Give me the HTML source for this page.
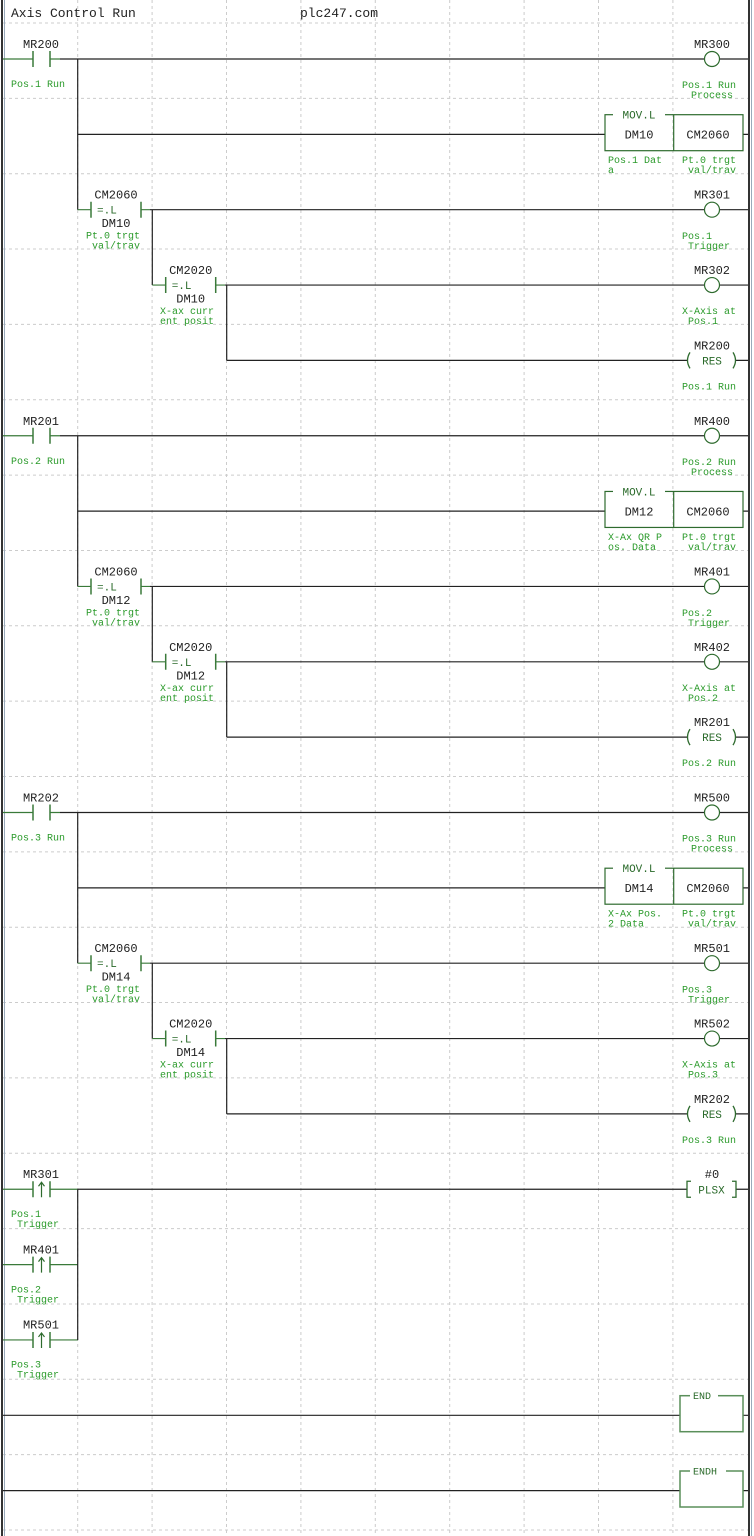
<!DOCTYPE html>
<html><head><meta charset="utf-8"><style>
html,body{margin:0;padding:0;background:#fff;}
svg{display:block;}
.l{font-family:"Liberation Mono",monospace;font-size:12px;fill:#222;}
.c{font-family:"Liberation Mono",monospace;font-size:10px;fill:#2a9a2a;}
.g{font-family:"Liberation Mono",monospace;font-size:11px;fill:#2a6a2a;}
.m{text-anchor:middle;}
</style></head><body>
<svg width="754" height="1536" viewBox="0 0 754 1536" xmlns="http://www.w3.org/2000/svg">
<defs>
<g id="bs" fill="none" stroke-width="1.2">
  <path d="M3 36H33M50 36H60" stroke="#3a7a3a"/>
  <path d="M60 36H704M719.5 36H748" stroke="#222"/>
  <path d="M33 28V44M50 28V44" stroke="#3a7a3a" stroke-width="1.5"/>
  <circle cx="712" cy="36" r="7.5" stroke="#2e6b2e"/>
  <path d="M77.7 36V186.7" stroke="#222"/>
  <path d="M77.7 111.35H605M743 111.35H748" stroke="#222"/>
  <rect x="605" y="91.7" width="138" height="36" stroke="#2e6b2e"/>
  <path d="M673.7 91.7V127.7" stroke="#2e6b2e"/>
  <rect x="613" y="86" width="52" height="10" fill="#fff" stroke="none"/>
  <path d="M77.7 186.7H91M141 186.7H150" stroke="#3a7a3a"/>
  <path d="M91 178.7V194.7M141 178.7V194.7" stroke="#3a7a3a" stroke-width="1.5"/>
  <path d="M150 186.7H704M719.5 186.7H748" stroke="#222"/>
  <circle cx="712" cy="186.7" r="7.5" stroke="#2e6b2e"/>
  <path d="M152.3 186.7V262.05" stroke="#222"/>
  <path d="M152.3 262.05H165.7M215.7 262.05H225" stroke="#3a7a3a"/>
  <path d="M165.7 254V270M215.7 254V270" stroke="#3a7a3a" stroke-width="1.5"/>
  <path d="M225 262.05H704M719.5 262.05H748" stroke="#222"/>
  <circle cx="712" cy="262.05" r="7.5" stroke="#2e6b2e"/>
  <path d="M226.7 262.05V337.4" stroke="#222"/>
  <path d="M226.7 337.4H687M736 337.4H748" stroke="#222"/>
  <path d="M690 329.4Q685 337.4 690 345.4M733 329.4Q738 337.4 733 345.4" stroke="#2e6b2e" stroke-width="1.3"/>
</g>
<g id="bt" fill="none" stroke-width="1.2">
  <path d="M3 0H33M50 0H77.7" stroke="#3a7a3a"/>
  <path d="M33 -8V8M50 -8V8" stroke="#3a7a3a" stroke-width="1.5"/>
  <path d="M41.5 8V-7M38.5 -3L41.5 -7L44.5 -3" stroke="#2e6b2e"/>
</g>
</defs>

<g stroke="#ccc" stroke-dasharray="3,3" stroke-width="1">
  <path d="M77.7 0V1536M152.1 0V1536M226.5 0V1536M300.9 0V1536M375.3 0V1536M449.7 0V1536M524.1 0V1536M598.5 0V1536M672.9 0V1536"/>
  <path d="M3 23H748M3 98.35H748M3 173.7H748M3 249H748M3 324.4H748M3 399.75H748M3 475.1H748M3 550.45H748M3 625.8H748M3 701.15H748M3 776.5H748M3 851.85H748M3 927.2H748M3 1002.55H748M3 1077.9H748M3 1153.25H748M3 1228.6H748M3 1303.95H748M3 1379.3H748M3 1454.65H748M3 1530H748"/>
</g>
<rect x="1" y="0" width="2" height="1536" fill="#333"/>
<rect x="4" y="0" width="1" height="1536" fill="#9ab"/>
<rect x="748" y="0" width="2" height="1536" fill="#333"/>
<rect x="751" y="0" width="1" height="1536" fill="#9ab"/>

<text class="l" x="11" y="17" style="font-size:13px">Axis Control Run</text>
<text class="l" x="300" y="17" style="font-size:13px">plc247.com</text>

<use href="#bs" transform="translate(0,23)"/>
<use href="#bs" transform="translate(0,399.75)"/>
<use href="#bs" transform="translate(0,776.5)"/>

<g transform="translate(0,23)">
<text class="l m" x="41" y="25">MR200</text><text class="c" x="11" y="64">Pos.1 Run</text>
<text class="l m" x="712" y="25">MR300</text><text class="c" x="682" y="65">Pos.1 Run</text><text class="c" x="691" y="75">Process</text>
<text class="g m" x="639" y="95.5">MOV.L</text>
<text class="l m" x="639" y="115.5">DM10</text><text class="l m" x="708" y="115.5">CM2060</text>
<text class="c" x="608" y="140">Pos.1 Dat</text><text class="c" x="608" y="150">a</text>
<text class="c" x="682" y="140">Pt.0 trgt</text><text class="c" x="688" y="150">val/trav</text>
<text class="l m" x="116" y="175.7">CM2060</text><text class="g" x="97" y="190.7">=.L</text><text class="l m" x="116" y="204">DM10</text>
<text class="c" x="86" y="215.5">Pt.0 trgt</text><text class="c" x="92" y="225.5">val/trav</text>
<text class="l m" x="712" y="175.7">MR301</text><text class="c" x="682" y="216">Pos.1</text><text class="c" x="688" y="226">Trigger</text>
<text class="l m" x="190.7" y="251">CM2020</text><text class="g" x="171.7" y="266">=.L</text><text class="l m" x="190.7" y="279.5">DM10</text>
<text class="c" x="160" y="291">X-ax curr</text><text class="c" x="160" y="301">ent posit</text>
<text class="l m" x="712" y="251">MR302</text><text class="c" x="682" y="291">X-Axis at</text><text class="c" x="688" y="301">Pos.1</text>
<text class="l m" x="712" y="326.4">MR200</text><text class="g m" x="712" y="341.4">RES</text><text class="c" x="682" y="366.4">Pos.1 Run</text>
</g>
<g transform="translate(0,399.75)">
<text class="l m" x="41" y="25">MR201</text><text class="c" x="11" y="64">Pos.2 Run</text>
<text class="l m" x="712" y="25">MR400</text><text class="c" x="682" y="65">Pos.2 Run</text><text class="c" x="691" y="75">Process</text>
<text class="g m" x="639" y="95.5">MOV.L</text>
<text class="l m" x="639" y="115.5">DM12</text><text class="l m" x="708" y="115.5">CM2060</text>
<text class="c" x="608" y="140">X-Ax QR P</text><text class="c" x="608" y="150">os. Data</text>
<text class="c" x="682" y="140">Pt.0 trgt</text><text class="c" x="688" y="150">val/trav</text>
<text class="l m" x="116" y="175.7">CM2060</text><text class="g" x="97" y="190.7">=.L</text><text class="l m" x="116" y="204">DM12</text>
<text class="c" x="86" y="215.5">Pt.0 trgt</text><text class="c" x="92" y="225.5">val/trav</text>
<text class="l m" x="712" y="175.7">MR401</text><text class="c" x="682" y="216">Pos.2</text><text class="c" x="688" y="226">Trigger</text>
<text class="l m" x="190.7" y="251">CM2020</text><text class="g" x="171.7" y="266">=.L</text><text class="l m" x="190.7" y="279.5">DM12</text>
<text class="c" x="160" y="291">X-ax curr</text><text class="c" x="160" y="301">ent posit</text>
<text class="l m" x="712" y="251">MR402</text><text class="c" x="682" y="291">X-Axis at</text><text class="c" x="688" y="301">Pos.2</text>
<text class="l m" x="712" y="326.4">MR201</text><text class="g m" x="712" y="341.4">RES</text><text class="c" x="682" y="366.4">Pos.2 Run</text>
</g>
<g transform="translate(0,776.5)">
<text class="l m" x="41" y="25">MR202</text><text class="c" x="11" y="64">Pos.3 Run</text>
<text class="l m" x="712" y="25">MR500</text><text class="c" x="682" y="65">Pos.3 Run</text><text class="c" x="691" y="75">Process</text>
<text class="g m" x="639" y="95.5">MOV.L</text>
<text class="l m" x="639" y="115.5">DM14</text><text class="l m" x="708" y="115.5">CM2060</text>
<text class="c" x="608" y="140">X-Ax Pos.</text><text class="c" x="608" y="150">2 Data</text>
<text class="c" x="682" y="140">Pt.0 trgt</text><text class="c" x="688" y="150">val/trav</text>
<text class="l m" x="116" y="175.7">CM2060</text><text class="g" x="97" y="190.7">=.L</text><text class="l m" x="116" y="204">DM14</text>
<text class="c" x="86" y="215.5">Pt.0 trgt</text><text class="c" x="92" y="225.5">val/trav</text>
<text class="l m" x="712" y="175.7">MR501</text><text class="c" x="682" y="216">Pos.3</text><text class="c" x="688" y="226">Trigger</text>
<text class="l m" x="190.7" y="251">CM2020</text><text class="g" x="171.7" y="266">=.L</text><text class="l m" x="190.7" y="279.5">DM14</text>
<text class="c" x="160" y="291">X-ax curr</text><text class="c" x="160" y="301">ent posit</text>
<text class="l m" x="712" y="251">MR502</text><text class="c" x="682" y="291">X-Axis at</text><text class="c" x="688" y="301">Pos.3</text>
<text class="l m" x="712" y="326.4">MR202</text><text class="g m" x="712" y="341.4">RES</text><text class="c" x="682" y="366.4">Pos.3 Run</text>
</g>

<use href="#bt" transform="translate(0,1189.25)"/>
<use href="#bt" transform="translate(0,1264.6)"/>
<use href="#bt" transform="translate(0,1339.95)"/>
<g fill="none" stroke="#222" stroke-width="1.2">
  <path d="M77.7 1189.25V1339.95M77.7 1189.25H687M736 1189.25H748"/>
  <path d="M691 1181.25H687V1197.25H691M732 1181.25H736V1197.25H732" stroke="#2e6b2e" stroke-width="1.3"/>
</g>
<text class="l m" x="41" y="1178">MR301</text><text class="c" x="11" y="1217">Pos.1</text><text class="c" x="17" y="1227">Trigger</text>
<text class="l m" x="41" y="1253.4">MR401</text><text class="c" x="11" y="1292.4">Pos.2</text><text class="c" x="17" y="1302.4">Trigger</text>
<text class="l m" x="41" y="1328.7">MR501</text><text class="c" x="11" y="1367.7">Pos.3</text><text class="c" x="17" y="1377.7">Trigger</text>
<text class="l m" x="712" y="1178">#0</text><text class="g m" x="711.5" y="1193.5">PLSX</text>

<g fill="none" stroke-width="1.2">
  <path d="M3 1415.3H680M743 1415.3H748M3 1490.65H680M743 1490.65H748" stroke="#222"/>
  <rect x="680" y="1395.7" width="63" height="36" stroke="#5a8f5a" stroke-width="1.5"/>
  <rect x="680" y="1471" width="63" height="36" stroke="#5a8f5a" stroke-width="1.5"/>
  <rect x="690" y="1390" width="28" height="10" fill="#fff" stroke="none"/>
  <rect x="690" y="1465" width="36" height="10" fill="#fff" stroke="none"/>
</g>
<text class="g" x="693" y="1399" style="font-size:10px">END</text>
<text class="g" x="693" y="1474.5" style="font-size:10px">ENDH</text>
</svg>
</body></html>
